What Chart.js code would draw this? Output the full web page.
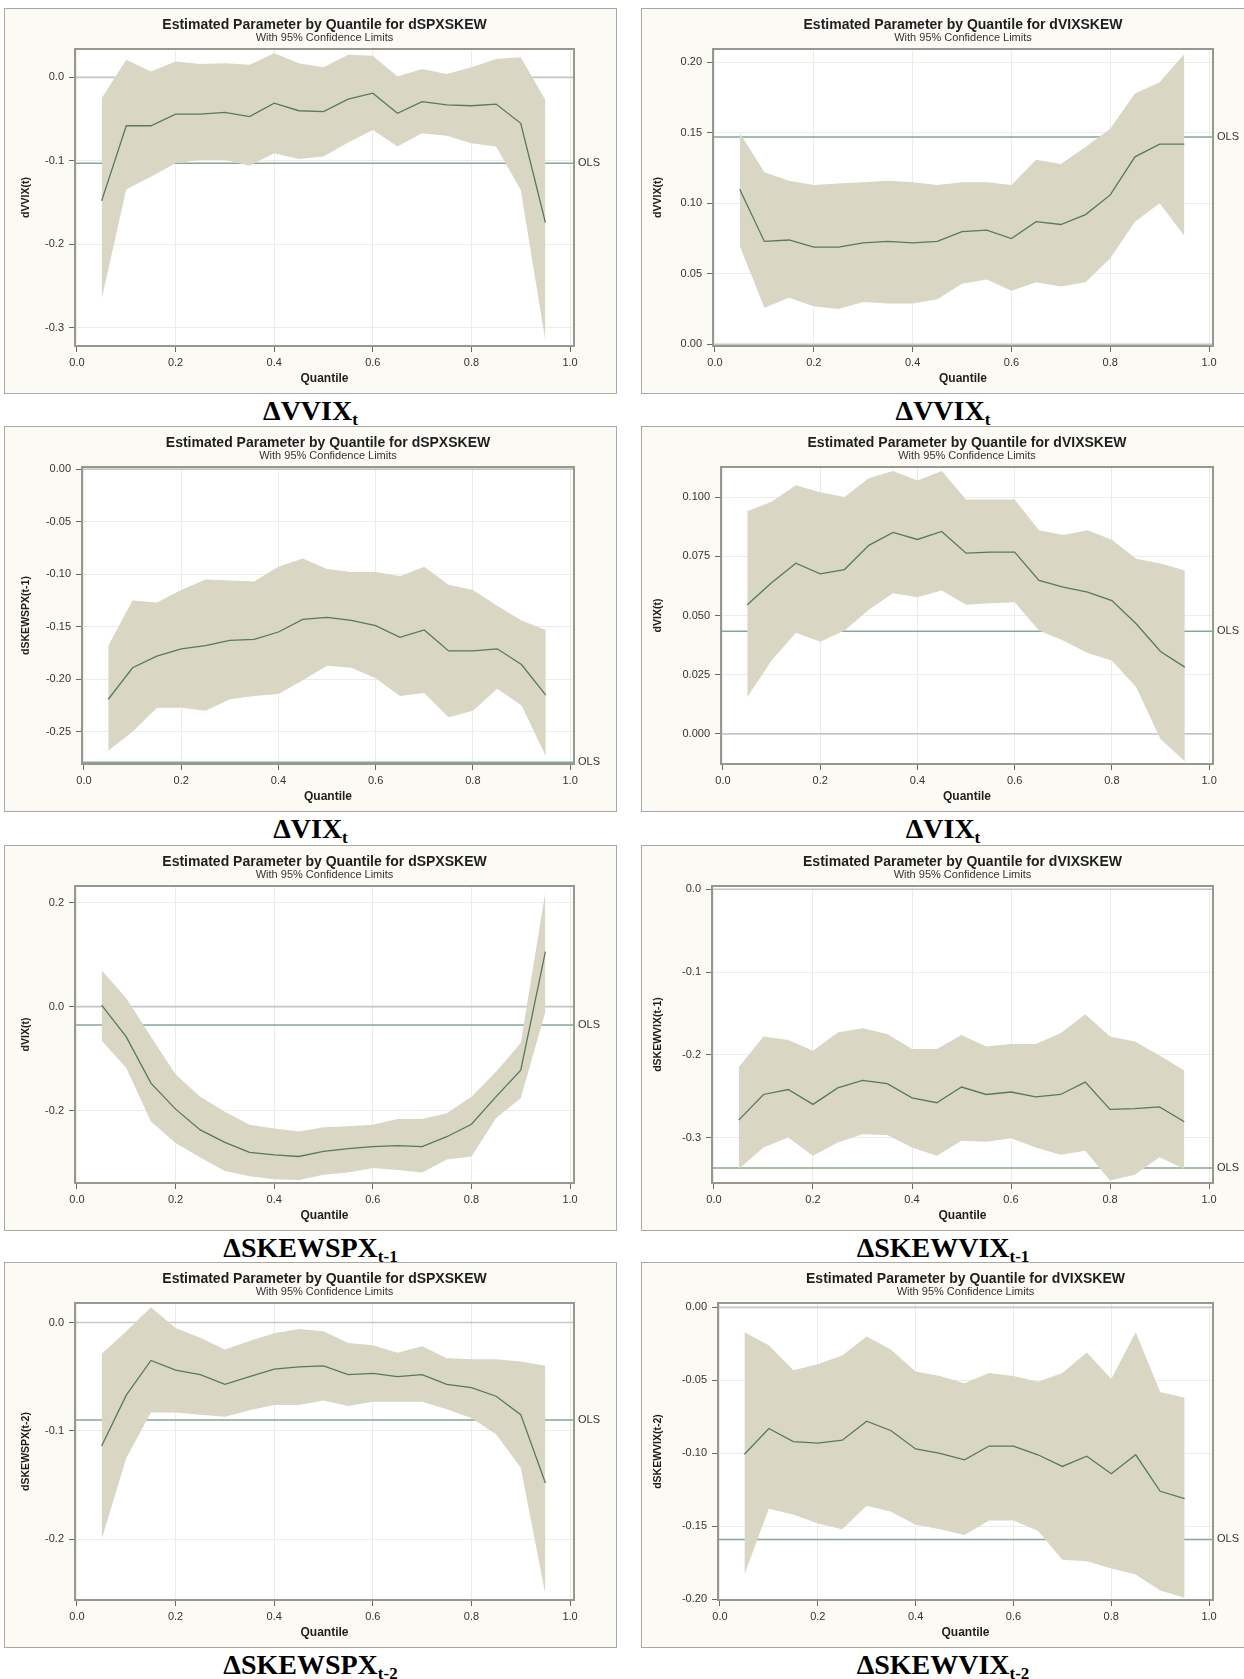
<!DOCTYPE html>
<html>
<head>
<meta charset="utf-8">
<title>Quantile regression parameter estimates</title>
<script src="https://cdn.jsdelivr.net/npm/chart.js@4.4.1/dist/chart.umd.min.js"></script>
<style>
  html, body { margin: 0; padding: 0; background: #ffffff; }
  body { position: relative; width: 1244px; height: 1679px; overflow: hidden;
         font-family: "Liberation Sans", Arial, sans-serif; }
  .panel { position: absolute; background: #fbfaf4; box-shadow: 0 0 0 1px #a9a9a2; }
  .panel canvas { position: absolute; left: 0; top: 0; }
  .cap { position: absolute; text-align: center; font-family: "Liberation Serif", "Times New Roman", serif;
         font-weight: bold; font-size: 28px; line-height: 30px; color: #000; white-space: nowrap; }
  .cap sub { font-size: 17px; vertical-align: -5px; line-height: 0; }
</style>
</head>
<body>
<script>
// Quantile levels shared by every panel
const Q = [0.05, 0.10, 0.15, 0.20, 0.25, 0.30, 0.35, 0.40, 0.45, 0.50,
           0.55, 0.60, 0.65, 0.70, 0.75, 0.80, 0.85, 0.90, 0.95];
const X_TICKS = [0, 0.2, 0.4, 0.6, 0.8, 1.0];
const X_RANGE = [-0.004, 1.008];

// dSPXSKEW on dVVIX(t)
const spxVvixEst   = [-0.148,-0.058,-0.058,-0.044,-0.044,-0.042,-0.047,-0.031,-0.040,-0.041,-0.026,-0.019,-0.043,-0.029,-0.033,-0.034,-0.032,-0.055,-0.174];
const spxVvixUpper = [-0.025, 0.021, 0.007, 0.019, 0.016, 0.017, 0.015, 0.029, 0.017, 0.012, 0.027, 0.026, 0.001, 0.010, 0.004, 0.012, 0.022, 0.024,-0.027];
const spxVvixLower = [-0.266,-0.134,-0.119,-0.103,-0.099,-0.099,-0.106,-0.091,-0.098,-0.095,-0.078,-0.063,-0.083,-0.067,-0.070,-0.079,-0.083,-0.135,-0.316];
const spxVvixOls = -0.103;
const spxVvixTicks = [-0.3, -0.2, -0.1, 0.0];
const spxVvixRange = [-0.322, 0.034];

// dVIXSKEW on dVVIX(t)
const vixVvixEst   = [0.110,0.073,0.074,0.069,0.069,0.072,0.073,0.072,0.073,0.080,0.081,0.075,0.087,0.085,0.092,0.106,0.133,0.142,0.142];
const vixVvixUpper = [0.150,0.122,0.116,0.113,0.114,0.115,0.116,0.115,0.113,0.115,0.115,0.113,0.131,0.128,0.140,0.153,0.178,0.186,0.206];
const vixVvixLower = [0.070,0.026,0.033,0.027,0.025,0.030,0.029,0.029,0.032,0.043,0.046,0.038,0.044,0.041,0.044,0.061,0.087,0.100,0.077];
const vixVvixOls = 0.147;
const vixVvixTicks = [0.00, 0.05, 0.10, 0.15, 0.20];
const vixVvixRange = [-0.0012, 0.2095];

// dSPXSKEW on dSKEWSPX(t-1), VIX row
const spxVixEst   = [-0.219,-0.189,-0.178,-0.171,-0.168,-0.163,-0.162,-0.155,-0.143,-0.141,-0.144,-0.149,-0.160,-0.153,-0.173,-0.173,-0.171,-0.186,-0.215];
const spxVixUpper = [-0.168,-0.125,-0.127,-0.115,-0.105,-0.106,-0.107,-0.093,-0.085,-0.095,-0.098,-0.098,-0.102,-0.093,-0.110,-0.115,-0.130,-0.144,-0.153];
const spxVixLower = [-0.268,-0.250,-0.227,-0.227,-0.230,-0.219,-0.216,-0.214,-0.201,-0.187,-0.189,-0.199,-0.216,-0.213,-0.236,-0.230,-0.209,-0.225,-0.273];
const spxVixOls = -0.279;
const spxVixTicks = [-0.25, -0.20, -0.15, -0.10, -0.05, 0.00];
const spxVixRange = [-0.2806, 0.002];

// dVIXSKEW on dVIX(t)
const vixVixEst   = [0.0545,0.0638,0.0721,0.0676,0.0694,0.0796,0.0851,0.0821,0.0855,0.0763,0.0768,0.0768,0.0648,0.0620,0.0599,0.0563,0.0465,0.0348,0.0282];
const vixVixUpper = [0.094,0.098,0.105,0.102,0.100,0.108,0.111,0.107,0.111,0.099,0.099,0.099,0.086,0.084,0.086,0.082,0.074,0.072,0.069];
const vixVixLower = [0.0155,0.031,0.0427,0.0389,0.0437,0.0524,0.0594,0.0577,0.0606,0.0545,0.0552,0.0556,0.0437,0.0394,0.0342,0.0310,0.0197,-0.0021,-0.0115];
const vixVixOls = 0.0434;
const vixVixTicks = [0.000, 0.025, 0.050, 0.075, 0.100];
const vixVixRange = [-0.0127, 0.1127];

// dSPXSKEW on dVIX(t), SKEWSPX(t-1) row
const spxSkew1Est   = [0.003,-0.058,-0.147,-0.197,-0.237,-0.261,-0.280,-0.285,-0.288,-0.278,-0.273,-0.269,-0.267,-0.269,-0.250,-0.226,-0.173,-0.122,0.106];
const spxSkew1Upper = [0.070,0.016,-0.058,-0.130,-0.173,-0.202,-0.227,-0.234,-0.240,-0.232,-0.230,-0.227,-0.216,-0.216,-0.205,-0.173,-0.125,-0.070,0.221];
const spxSkew1Lower = [-0.065,-0.118,-0.221,-0.262,-0.290,-0.316,-0.326,-0.332,-0.333,-0.323,-0.319,-0.310,-0.314,-0.319,-0.294,-0.288,-0.214,-0.176,-0.010];
const spxSkew1Ols = -0.035;
const spxSkew1Ticks = [-0.2, 0.0, 0.2];
const spxSkew1Range = [-0.339, 0.232];

// dVIXSKEW on dSKEWVIX(t-1)
const vixSkew1Est   = [-0.279,-0.248,-0.242,-0.260,-0.240,-0.231,-0.235,-0.252,-0.258,-0.239,-0.248,-0.245,-0.251,-0.248,-0.233,-0.266,-0.265,-0.263,-0.281];
const vixSkew1Upper = [-0.215,-0.178,-0.182,-0.195,-0.173,-0.168,-0.175,-0.193,-0.193,-0.176,-0.190,-0.187,-0.187,-0.174,-0.151,-0.178,-0.184,-0.201,-0.219];
const vixSkew1Lower = [-0.338,-0.312,-0.300,-0.322,-0.306,-0.296,-0.297,-0.312,-0.322,-0.304,-0.305,-0.301,-0.312,-0.321,-0.316,-0.352,-0.345,-0.324,-0.338];
const vixSkew1Ols = -0.337;
const vixSkew1Ticks = [-0.3, -0.2, -0.1, 0.0];
const vixSkew1Range = [-0.355, 0.004];

// dSPXSKEW on dSKEWSPX(t-2)
const spxSkew2Est   = [-0.114,-0.067,-0.035,-0.044,-0.048,-0.057,-0.050,-0.043,-0.041,-0.040,-0.048,-0.047,-0.050,-0.048,-0.057,-0.060,-0.068,-0.085,-0.148];
const spxSkew2Upper = [-0.029,-0.008,0.014,-0.005,-0.014,-0.025,-0.017,-0.010,-0.006,-0.008,-0.019,-0.021,-0.028,-0.022,-0.033,-0.034,-0.034,-0.036,-0.040];
const spxSkew2Lower = [-0.200,-0.125,-0.083,-0.083,-0.085,-0.087,-0.081,-0.076,-0.076,-0.072,-0.077,-0.073,-0.073,-0.073,-0.080,-0.088,-0.103,-0.134,-0.251];
const spxSkew2Ols = -0.090;
const spxSkew2Ticks = [-0.2, -0.1, 0.0];
const spxSkew2Range = [-0.256, 0.018];

// dVIXSKEW on dSKEWVIX(t-2)
const vixSkew2Est   = [-0.1006,-0.083,-0.092,-0.093,-0.091,-0.078,-0.0845,-0.097,-0.100,-0.1045,-0.095,-0.095,-0.101,-0.109,-0.102,-0.114,-0.101,-0.126,-0.131];
const vixSkew2Upper = [-0.017,-0.026,-0.043,-0.039,-0.033,-0.020,-0.029,-0.044,-0.047,-0.052,-0.045,-0.047,-0.051,-0.045,-0.031,-0.049,-0.017,-0.058,-0.062];
const vixSkew2Lower = [-0.183,-0.138,-0.142,-0.148,-0.152,-0.136,-0.140,-0.149,-0.152,-0.156,-0.146,-0.146,-0.153,-0.173,-0.174,-0.179,-0.183,-0.194,-0.199];
const vixSkew2Ols = -0.159;
const vixSkew2Ticks = [-0.20, -0.15, -0.10, -0.05, 0.00];
const vixSkew2Range = [-0.2005, 0.003];

const TITLE_SPX = 'Estimated Parameter by Quantile for dSPXSKEW';
const TITLE_VIX = 'Estimated Parameter by Quantile for dVIXSKEW';
const SUBTITLE = 'With 95% Confidence Limits';

// Page layout
const LEFT_COL  = { x: 5,   w: 611, right: 42, yTitlePad: 15 };
const RIGHT_COL = { x: 642, w: 602, right: 31, yTitlePad: 10 };
const ROW_TOPS = [9, 427, 846, 1263];
const PANEL_H = 384;

// Styles
const FONT = '"Liberation Sans", Arial, sans-serif';
const BAND = '#d9d6c4';
const EST_COLOR = '#567a5b';
const OLS_COLOR = '#86a892';
const ZERO_COLOR = '#c3c8c6';
const GRID_COLOR = '#ececea';
const FRAME_COLOR = '#97978e';
const TEXT_COLOR = '#333333';

const panels = [
  { col: LEFT_COL,  row: 0, title: TITLE_SPX, yTitle: 'dVVIX(t)', est: spxVvixEst, upper: spxVvixUpper, lower: spxVvixLower, ols: spxVvixOls, ticks: spxVvixTicks, range: spxVvixRange, dec: 1, axisW: 70, cap: ['\u0394VVIX', 't'] },
  { col: RIGHT_COL, row: 0, title: TITLE_VIX, yTitle: 'dVVIX(t)', est: vixVvixEst, upper: vixVvixUpper, lower: vixVvixLower, ols: vixVvixOls, ticks: vixVvixTicks, range: vixVvixRange, dec: 2, axisW: 71, cap: ['\u0394VVIX', 't'] },
  { col: LEFT_COL,  row: 1, title: TITLE_SPX, yTitle: 'dSKEWSPX(t-1)', est: spxVixEst, upper: spxVixUpper, lower: spxVixLower, ols: spxVixOls, ticks: spxVixTicks, range: spxVixRange, dec: 2, axisW: 77, cap: ['\u0394VIX', 't'] },
  { col: RIGHT_COL, row: 1, title: TITLE_VIX, yTitle: 'dVIX(t)', est: vixVixEst, upper: vixVixUpper, lower: vixVixLower, ols: vixVixOls, ticks: vixVixTicks, range: vixVixRange, dec: 3, axisW: 79, cap: ['\u0394VIX', 't'] },
  { col: LEFT_COL,  row: 2, title: TITLE_SPX, yTitle: 'dVIX(t)', est: spxSkew1Est, upper: spxSkew1Upper, lower: spxSkew1Lower, ols: spxSkew1Ols, ticks: spxSkew1Ticks, range: spxSkew1Range, dec: 1, axisW: 70, cap: ['\u0394SKEWSPX', 't-1'] },
  { col: RIGHT_COL, row: 2, title: TITLE_VIX, yTitle: 'dSKEWVIX(t-1)', est: vixSkew1Est, upper: vixSkew1Upper, lower: vixSkew1Lower, ols: vixSkew1Ols, ticks: vixSkew1Ticks, range: vixSkew1Range, dec: 1, axisW: 70, cap: ['\u0394SKEWVIX', 't-1'] },
  { col: LEFT_COL,  row: 3, title: TITLE_SPX, yTitle: 'dSKEWSPX(t-2)', est: spxSkew2Est, upper: spxSkew2Upper, lower: spxSkew2Lower, ols: spxSkew2Ols, ticks: spxSkew2Ticks, range: spxSkew2Range, dec: 1, axisW: 70, cap: ['\u0394SKEWSPX', 't-2'] },
  { col: RIGHT_COL, row: 3, title: TITLE_VIX, yTitle: 'dSKEWVIX(t-2)', est: vixSkew2Est, upper: vixSkew2Upper, lower: vixSkew2Lower, ols: vixSkew2Ols, ticks: vixSkew2Ticks, range: vixSkew2Range, dec: 2, axisW: 76, cap: ['\u0394SKEWVIX', 't-2'] }
];

// Plot wall, reference lines, frame, titles and the OLS tag
const panelDecor = {
  id: 'panelDecor',
  beforeDraw(chart) {
    const { ctx, chartArea: a } = chart;
    ctx.save();
    ctx.fillStyle = '#ffffff';
    ctx.fillRect(a.left, a.top, a.right - a.left, a.bottom - a.top);
    ctx.restore();
  },
  beforeDatasetsDraw(chart, args, opts) {
    const { ctx, chartArea: a, scales: { y } } = chart;
    ctx.save();
    ctx.beginPath();
    ctx.rect(a.left, a.top, a.right - a.left, a.bottom - a.top);
    ctx.clip();
    const hline = (v, color, w) => {
      const py = y.getPixelForValue(v);
      ctx.strokeStyle = color;
      ctx.lineWidth = w;
      ctx.beginPath();
      ctx.moveTo(a.left, py);
      ctx.lineTo(a.right, py);
      ctx.stroke();
    };
    hline(0, ZERO_COLOR, 1.6);
    hline(opts.ols, OLS_COLOR, 1.5);
    ctx.restore();
  },
  afterDraw(chart, args, opts) {
    const { ctx, chartArea: a, scales: { y } } = chart;
    ctx.save();
    ctx.strokeStyle = FRAME_COLOR;
    ctx.lineWidth = 2;
    ctx.strokeRect(a.left, a.top, a.right - a.left, a.bottom - a.top);

    ctx.fillStyle = TEXT_COLOR;
    ctx.font = '11px ' + FONT;
    ctx.textAlign = 'left';
    ctx.textBaseline = 'middle';
    ctx.fillText('OLS', a.right + 4, y.getPixelForValue(opts.ols));

    const cx = (a.left + a.right) / 2;
    ctx.textAlign = 'center';
    ctx.fillStyle = '#1e1e1e';
    ctx.font = 'bold 14px ' + FONT;
    ctx.fillText(opts.title, cx, 16);
    ctx.fillStyle = TEXT_COLOR;
    ctx.font = '11px ' + FONT;
    ctx.fillText(opts.subtitle, cx, 29);
    ctx.restore();
  }
};

const toPoints = arr => Q.map((q, i) => ({ x: q, y: arr[i] }));

panels.forEach(p => {
  const top = ROW_TOPS[p.row];
  const div = document.createElement('div');
  div.className = 'panel';
  div.style.left = p.col.x + 'px';
  div.style.top = top + 'px';
  div.style.width = p.col.w + 'px';
  div.style.height = PANEL_H + 'px';
  const cv = document.createElement('canvas');
  cv.width = p.col.w;
  cv.height = PANEL_H;
  div.appendChild(cv);
  document.body.appendChild(div);

  const cap = document.createElement('div');
  cap.className = 'cap';
  cap.style.left = p.col.x + 'px';
  cap.style.width = p.col.w + 'px';
  cap.style.top = (top + PANEL_H + 3) + 'px';
  cap.textContent = p.cap[0];
  const sub = document.createElement('sub');
  sub.textContent = p.cap[1];
  cap.appendChild(sub);
  document.body.appendChild(cap);

  new Chart(cv, {
    type: 'line',
    data: {
      datasets: [
        { data: toPoints(p.est), borderColor: EST_COLOR, borderWidth: 1.3, pointRadius: 0, fill: false, tension: 0, order: 0 },
        { data: toPoints(p.upper), borderColor: 'rgba(0,0,0,0)', borderWidth: 0, pointRadius: 0, backgroundColor: BAND, fill: '+1', tension: 0, order: 1 },
        { data: toPoints(p.lower), borderColor: 'rgba(0,0,0,0)', borderWidth: 0, pointRadius: 0, fill: false, tension: 0, order: 2 }
      ]
    },
    options: {
      responsive: false,
      animation: false,
      events: [],
      layout: { padding: { left: 0, right: p.col.right, top: 40, bottom: 0 } },
      plugins: {
        legend: { display: false },
        tooltip: { enabled: false },
        panelDecor: { ols: p.ols, title: p.title, subtitle: SUBTITLE }
      },
      scales: {
        x: {
          type: 'linear',
          min: X_RANGE[0],
          max: X_RANGE[1],
          afterBuildTicks: s => { s.ticks = X_TICKS.map(v => ({ value: v })); },
          afterFit: s => { s.height = 47; },
          border: { display: false },
          grid: { color: GRID_COLOR, tickColor: '#6a6a64', tickLength: 6, lineWidth: 1 },
          ticks: { autoSkip: false, maxRotation: 0, padding: 4, color: TEXT_COLOR,
                   font: { family: FONT, size: 11 }, callback: v => v.toFixed(1) },
          title: { display: true, text: 'Quantile', color: '#1e1e1e',
                   font: { family: FONT, size: 12, weight: 'bold' }, padding: { top: 0, bottom: 7 } }
        },
        y: {
          type: 'linear',
          min: p.range[0],
          max: p.range[1],
          afterBuildTicks: s => { s.ticks = p.ticks.map(v => ({ value: v })); },
          afterFit: s => { s.width = p.axisW; },
          border: { display: false },
          grid: { color: GRID_COLOR, tickColor: '#6a6a64', tickLength: 6, lineWidth: 1 },
          ticks: { autoSkip: false, padding: 5, color: TEXT_COLOR,
                   font: { family: FONT, size: 11 }, callback: v => v.toFixed(p.dec) },
          title: { display: true, text: p.yTitle, color: '#1e1e1e',
                   font: { family: FONT, size: 10.5, weight: 'bold' }, padding: { top: p.col.yTitlePad, bottom: 0 } }
        }
      }
    },
    plugins: [panelDecor]
  });
});
</script>
</body>
</html>
